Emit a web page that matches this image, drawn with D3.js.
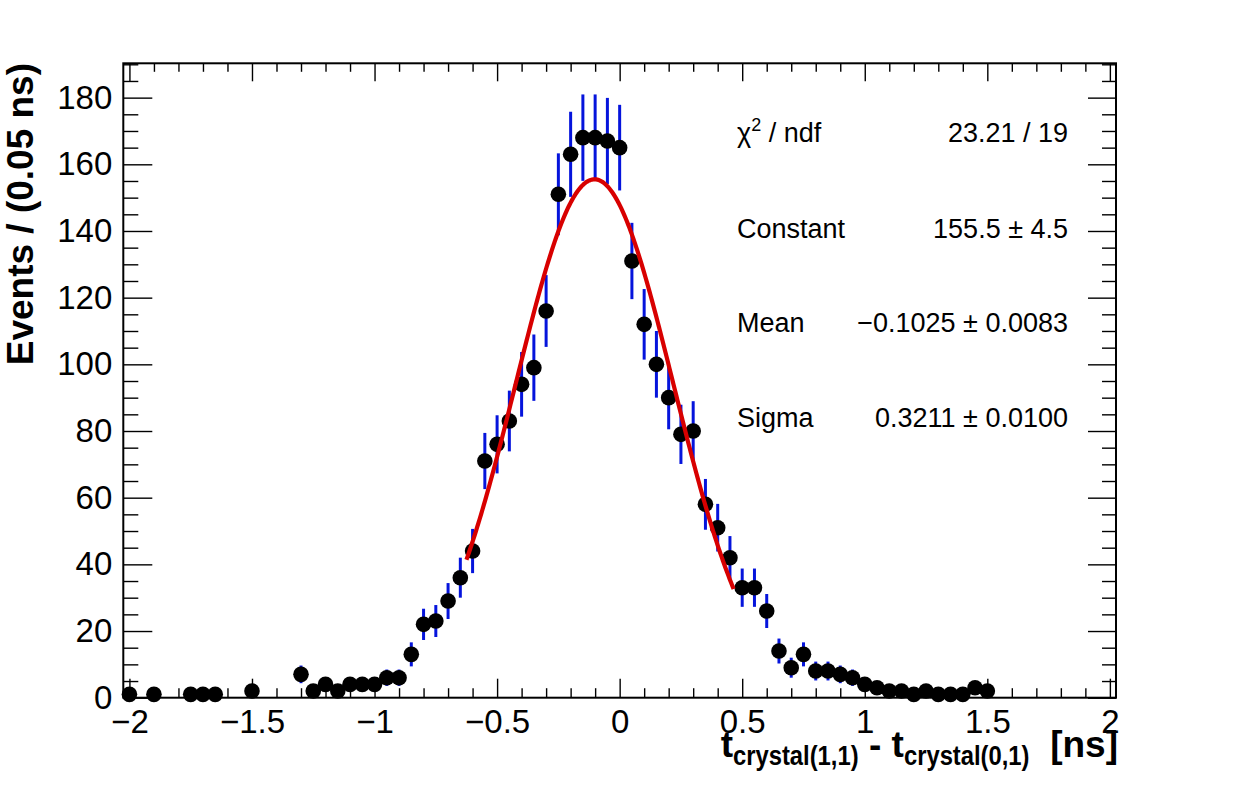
<!DOCTYPE html>
<html>
<head>
<meta charset="utf-8">
<script src="https://cdn.jsdelivr.net/npm/d3@7"></script>
<style>
  html, body { margin: 0; padding: 0; background: #fff; }
  svg { display: block; font-family: "Liberation Sans", Arial, Helvetica, sans-serif; }
</style>
</head>
<body>
<svg id="chart" width="1240" height="792"></svg>
<script>
// bin centers (0.05 ns bins), only non-empty bins are drawn
const binCenters = [
  -2.0, -1.9, -1.75, -1.7, -1.65, -1.5, -1.3, -1.25, -1.2, -1.15,
  -1.1, -1.05, -1.0, -0.95, -0.9, -0.85, -0.8, -0.75, -0.7, -0.65,
  -0.6, -0.55, -0.5, -0.45, -0.4, -0.35, -0.3, -0.25, -0.2, -0.15,
  -0.1, -0.05, 0.0, 0.05, 0.1, 0.15, 0.2, 0.25, 0.3, 0.35,
  0.4, 0.45, 0.5, 0.55, 0.6, 0.65, 0.7, 0.75, 0.8, 0.85,
  0.9, 0.95, 1.0, 1.05, 1.1, 1.15, 1.2, 1.25, 1.3, 1.35,
  1.4, 1.45, 1.5
];
const counts = [
  1, 1, 1, 1, 1, 2, 7, 2, 4, 2,
  4, 4, 4, 6, 6, 13, 22, 23, 29, 36,
  44, 71, 76, 83, 94, 99, 116, 151, 163, 168,
  168, 167, 165, 131, 112, 100, 90, 79, 80, 58,
  51, 42, 33, 33, 26, 14, 9, 13, 8, 8,
  7, 6, 4, 3, 2, 2, 1, 2, 1, 1,
  1, 3, 2
];

// gaussian fit result
const fitConstant = 155.5;
const fitMean = -0.1025;
const fitSigma = 0.3211;
const fitRange = [-0.625, 0.465];

const xTicks = [-2, -1.5, -1, -0.5, 0, 0.5, 1, 1.5, 2];
const yTicks = [0, 20, 40, 60, 80, 100, 120, 140, 160, 180];

const statLabels = ["χ2 / ndf", "Constant", "Mean", "Sigma"];
const statValues = ["23.21 / 19", "155.5 ± 4.5", "−0.1025 ± 0.0083", "0.3211 ± 0.0100"];

const frame = { left: 123.3, right: 1116, top: 63.3, bottom: 697.7 };

const svg = d3.select("#chart");

const x = d3.scaleLinear().domain([-2.025, 2.025]).range([frame.left, frame.right]);
const y = d3.scaleLinear().domain([0, 190.3]).range([frame.bottom, frame.top]);

const fmt = d3.format("~g");
const xMinor = d3.range(-20, 21).map(d => d / 10).filter(d => xTicks.indexOf(d) < 0);
const yMinor = d3.range(0, 191, 5).filter(d => d % 20 !== 0);

// --- axes, ROOT style ticks on all four sides pointing inwards
function styleAxis(g) {
  g.select(".domain").remove();
  g.selectAll(".tick line").attr("stroke", "#000").attr("stroke-width", 1.4);
  g.selectAll(".tick text").attr("fill", "#000").attr("font-size", 33)
    .attr("font-family", "'Liberation Sans', Arial, sans-serif");
}

svg.append("g")
  .attr("transform", `translate(0,${frame.bottom})`)
  .call(d3.axisBottom(x).tickValues(xTicks).tickSize(-19).tickPadding(11.5).tickFormat(fmt))
  .call(styleAxis);
svg.append("g")
  .attr("transform", `translate(0,${frame.bottom})`)
  .call(d3.axisBottom(x).tickValues(xMinor).tickSize(-9.5).tickFormat(""))
  .call(styleAxis);
svg.append("g")
  .attr("transform", `translate(0,${frame.top})`)
  .call(d3.axisTop(x).tickValues(xTicks).tickSize(-18).tickFormat(""))
  .call(styleAxis);
svg.append("g")
  .attr("transform", `translate(0,${frame.top})`)
  .call(d3.axisTop(x).tickValues(xMinor).tickSize(-8.5).tickFormat(""))
  .call(styleAxis);

svg.append("g")
  .attr("transform", `translate(${frame.left},0)`)
  .call(d3.axisLeft(y).tickValues(yTicks).tickSize(-29).tickPadding(11).tickFormat(fmt))
  .call(styleAxis);
svg.append("g")
  .attr("transform", `translate(${frame.left},0)`)
  .call(d3.axisLeft(y).tickValues(yMinor).tickSize(-15).tickFormat(""))
  .call(styleAxis);
svg.append("g")
  .attr("transform", `translate(${frame.right},0)`)
  .call(d3.axisRight(y).tickValues(yTicks).tickSize(-28).tickFormat(""))
  .call(styleAxis);
svg.append("g")
  .attr("transform", `translate(${frame.right},0)`)
  .call(d3.axisRight(y).tickValues(yMinor).tickSize(-14).tickFormat(""))
  .call(styleAxis);

svg.append("rect")
  .attr("x", frame.left).attr("y", frame.top)
  .attr("width", frame.right - frame.left).attr("height", frame.bottom - frame.top)
  .attr("fill", "none").attr("stroke", "#000").attr("stroke-width", 2);

// --- histogram points with sqrt(N) errors
const points = binCenters.map((c, i) => ({ x: c, n: counts[i] }));

svg.append("g")
  .selectAll("line")
  .data(points)
  .join("line")
  .attr("x1", d => x(d.x)).attr("x2", d => x(d.x))
  .attr("y1", d => y(d.n - Math.sqrt(d.n)))
  .attr("y2", d => y(d.n + Math.sqrt(d.n)))
  .attr("stroke", "#0514dc")
  .attr("stroke-width", 3);

svg.append("g")
  .selectAll("circle")
  .data(points)
  .join("circle")
  .attr("cx", d => x(d.x))
  .attr("cy", d => y(d.n))
  .attr("r", 7.8)
  .attr("fill", "#000");

// --- fitted gaussian
const gaus = t => fitConstant * Math.exp(-0.5 * Math.pow((t - fitMean) / fitSigma, 2));
const fitPts = d3.range(0, 201).map(i => fitRange[0] + (fitRange[1] - fitRange[0]) * i / 200);

svg.append("path")
  .datum(fitPts)
  .attr("fill", "none")
  .attr("stroke", "#d80000")
  .attr("stroke-width", 4.2)
  .attr("d", d3.line().x(d => x(d)).y(d => y(gaus(d))));

// --- fit statistics
const statBaselines = [142, 238, 332, 427];
const stats = svg.append("g").attr("font-size", 27).attr("fill", "#000");

statLabels.forEach((lab, i) => {
  const t = stats.append("text").attr("x", 737).attr("y", statBaselines[i]);
  if (i === 0) {
    t.append("tspan").text("χ");
    t.append("tspan").attr("font-size", 18).attr("dy", -11).text("2");
    t.append("tspan").attr("dy", 11).text(" / ndf");
  } else {
    t.text(lab);
  }
  stats.append("text")
    .attr("x", 1068).attr("y", statBaselines[i])
    .attr("text-anchor", "end")
    .text(statValues[i]);
});

// --- axis titles
svg.append("text")
  .attr("transform", "translate(33,63) rotate(-90)")
  .attr("text-anchor", "end")
  .attr("font-size", 37)
  .attr("font-weight", "bold")
  .text("Events / (0.05 ns)");

// x title laid out piece by piece, subscripts a bit condensed like the original
const titleParts = [
  { s: "t", size: 37, dy: 0, sx: 1 },
  { s: "crystal(1,1)", size: 28, dy: 8, sx: 0.85 },
  { s: " - ", size: 37, dy: 0, sx: 1 },
  { s: "t", size: 37, dy: 0, sx: 1 },
  { s: "crystal(0,1)", size: 28, dy: 8, sx: 0.85 },
  { s: "  [ns]", size: 37, dy: 0, sx: 1 }
];
const titleG = svg.append("g").attr("font-weight", "bold");
let cursor = 0;
const titleNodes = titleParts.map(p => {
  const t = titleG.append("text")
    .attr("font-size", p.size)
    .attr("xml:space", "preserve")
    .style("white-space", "pre")
    .text(p.s);
  const w = t.node().getComputedTextLength() * p.sx;
  const node = { t, p, x: cursor };
  cursor += w;
  return node;
});
const titleRight = 1118;
const shift = titleRight - cursor;
titleNodes.forEach(n => {
  n.t.attr("transform", `translate(${shift + n.x},${757 + n.p.dy}) scale(${n.p.sx},1)`);
});
</script>
</body>
</html>
